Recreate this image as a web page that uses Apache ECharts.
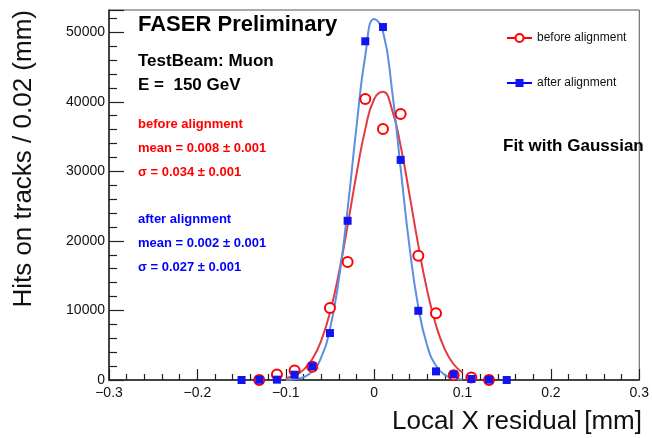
<!DOCTYPE html>
<html>
<head>
<meta charset="utf-8" />
<title>FASER Preliminary - Local X residual</title>
<script src="https://cdn.jsdelivr.net/npm/echarts@6/dist/echarts.min.js"></script>
<style>
  html, body { margin: 0; padding: 0; background: #fff; }
  #chart { width: 652px; height: 438px; }
</style>
</head>
<body>
<div id="chart"></div>
<script type="text/javascript">
// bin centres (mm), width 0.02
var binX = [-0.15, -0.13, -0.11, -0.09, -0.07, -0.05, -0.03, -0.01, 0.01, 0.03, 0.05, 0.07, 0.09, 0.11, 0.13, 0.15];
// hits per bin (null = no marker)
var beforeHits = [null, 0, 800, 1380, 1900, 10340, 16950, 40400, 36100, 38250, 17850, 9600, 700, 370, 0, null];
var afterHits = [0, 30, 50, 760, 1960, 6750, 22890, 48700, 50750, 31650, 9950, 1240, 800, 140, 40, 0];

// fitted gaussian curves
var fitX = [-0.10, -0.09, -0.08, -0.07, -0.06, -0.05, -0.04, -0.03, -0.02, -0.01, 0.00,
            0.01, 0.02, 0.03, 0.04, 0.05, 0.06, 0.07, 0.08, 0.09, 0.10];
var beforeFit = [267, 651, 1457, 2988, 5616, 9686, 15320, 22220, 29560, 36070, 40370,
                 41430, 38990, 33660, 26650, 19350, 12890, 7870, 4408, 2265, 1067];
var afterFit = [29, 118, 410, 1237, 3233, 7330, 14410, 24580, 36370, 46660, 51920,
                50110, 41940, 30440, 19170, 10470, 4950, 2035, 725, 224, 60];

var FONT = '"Liberation Sans", Arial, Helvetica, sans-serif';
var RED = '#ff0000';
var BLUE = '#0000ff';

function pairs(xs, ys) {
    var out = [];
    for (var i = 0; i < xs.length; i++) {
        if (ys[i] !== null) out.push([xs[i], ys[i]]);
    }
    return out;
}

function label(text, x, y, size, color, weight, align) {
    return {
        type: 'text',
        x: x,
        y: y,
        silent: true,
        style: {
            text: text,
            fill: color,
            font: (weight || 'bold') + ' ' + size + 'px ' + FONT,
            textAlign: align || 'left',
            textVerticalAlign: 'middle'
        }
    };
}

var chart = echarts.init(document.getElementById('chart'));

chart.setOption({
    animation: false,
    backgroundColor: '#fff',
    grid: {
        left: 109,
        right: 10,
        top: 10,
        bottom: 58,
        show: true,
        borderColor: '#555',
        borderWidth: 1
    },
    xAxis: {
        type: 'value',
        min: -0.3,
        max: 0.3,
        interval: 0.1,
        axisLine: { onZero: false, lineStyle: { color: '#222', width: 1.5 } },
        axisTick: { inside: true, length: 11, lineStyle: { color: '#222', width: 1.2 } },
        minorTick: { show: true, splitNumber: 5, length: 6, lineStyle: { color: '#222', width: 1.2 } },
        splitLine: { show: false },
        axisLabel: {
            margin: 6,
            fontSize: 14,
            fontFamily: FONT,
            color: '#111',
            showMinLabel: true,
            showMaxLabel: true,
            formatter: function (v) {
                return String(+v.toFixed(1)).replace('-', '\u2212');
            }
        }
    },
    yAxis: {
        type: 'value',
        min: 0,
        max: 53200,
        interval: 10000,
        axisLine: { onZero: false, lineStyle: { color: '#222', width: 1.5 } },
        axisTick: { inside: true, length: 15, lineStyle: { color: '#222', width: 1.2 } },
        minorTick: { show: true, splitNumber: 5, length: 8, lineStyle: { color: '#222', width: 1.2 } },
        splitLine: { show: false },
        axisLabel: {
            margin: 4,
            fontSize: 14,
            fontFamily: FONT,
            color: '#111',
            showMaxLabel: false,
            formatter: function (v) {
                return String(Math.round(v));
            }
        }
    },
    legend: {
        orient: 'vertical',
        left: 501,
        top: 27,
        itemWidth: 25,
        itemHeight: 10,
        itemGap: 33,
        textStyle: { fontSize: 12, fontFamily: FONT, color: '#111' },
        data: [
            { name: 'before alignment', lineStyle: { width: 2, color: RED, opacity: 1 } },
            { name: 'after alignment', lineStyle: { width: 2, color: BLUE, opacity: 1 } }
        ]
    },
    series: [
        {
            name: 'before fit',
            type: 'line',
            smooth: true,
            symbol: 'none',
            lineStyle: { color: '#e23a42', width: 2 },
            data: pairs(fitX, beforeFit),
            z: 2
        },
        {
            name: 'after fit',
            type: 'line',
            smooth: true,
            symbol: 'none',
            lineStyle: { color: '#5b8fe0', width: 2 },
            data: pairs(fitX, afterFit),
            z: 3
        },
        {
            name: 'before alignment',
            type: 'line',
            clip: false,
            symbol: 'emptyCircle',
            symbolSize: 10,
            itemStyle: { color: RED, borderColor: RED, borderWidth: 1.3 },
            lineStyle: { width: 0 },
            data: pairs(binX, beforeHits),
            z: 4
        },
        {
            name: 'after alignment',
            type: 'line',
            clip: false,
            symbol: 'rect',
            symbolSize: 8,
            itemStyle: { color: '#1414f0' },
            lineStyle: { width: 0 },
            data: pairs(binX, afterHits),
            z: 5
        }
    ],
    graphic: [
        label('FASER Preliminary', 138, 25, 22, '#000'),
        label('TestBeam: Muon', 138, 61, 17, '#000'),
        label('E =  150 GeV', 138, 85, 17, '#000'),
        label('before alignment', 138, 124, 13, RED),
        label('mean = 0.008 \u00b1 0.001', 138, 148, 13, RED),
        label('\u03c3 = 0.034 \u00b1 0.001', 138, 172, 13, RED),
        label('after alignment', 138, 219, 13, BLUE),
        label('mean = 0.002 \u00b1 0.001', 138, 243, 13, BLUE),
        label('\u03c3 = 0.027 \u00b1 0.001', 138, 267, 13, BLUE),
        label('Fit with Gaussian', 503, 146, 17, '#000'),
        label('Local X residual [mm]', 642, 422, 26, '#111', 'normal', 'right'),
        {
            type: 'text',
            x: 24,
            y: 10,
            rotation: Math.PI / 2,
            silent: true,
            style: {
                text: 'Hits on tracks / 0.02 (mm)',
                fill: '#111',
                font: 'normal 26px ' + FONT,
                textAlign: 'right',
                textVerticalAlign: 'middle'
            }
        }
    ]
});
</script>
</body>
</html>
